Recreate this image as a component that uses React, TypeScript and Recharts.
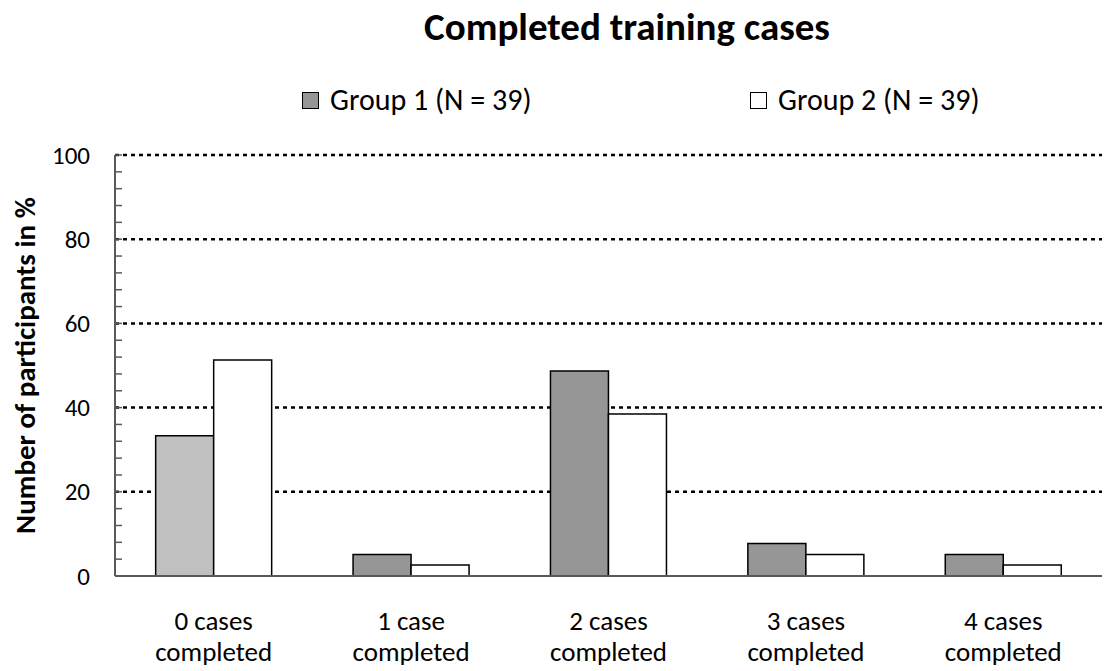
import { Bar, BarChart, CartesianGrid, Cell, Legend, XAxis, YAxis } from "recharts";

const categories = ["0 cases", "1 case", "2 cases", "3 cases", "4 cases"];
const secondLine = "completed";
const group1Values = [33.3, 5.1, 48.7, 7.7, 5.1];
const group2Values = [51.3, 2.6, 38.5, 5.1, 2.6];
const yTicks = [0, 4, 8, 12, 16, 20, 24, 28, 32, 36, 40, 44, 48, 52, 56, 60, 64, 68, 72, 76, 80, 84, 88, 92, 96, 100];
const majorTicks = [0, 20, 40, 60, 80, 100];
const gridValues = [20, 40, 60, 80, 100];

const data = categories.map((c, i) => ({
  category: c,
  group1: group1Values[i],
  group2: group2Values[i]
}));

const font = "Carlito, Lato, 'Liberation Sans', sans-serif";
const axisColor = "#595959";

function YTick({ x, y, payload }: any) {
  const major = majorTicks.includes(payload.value);
  return (
    <g>
      <line x1={x} x2={x + 7} y1={y} y2={y} stroke={axisColor} strokeWidth={1.5} />
      {major && (
        <text x={x - 25} y={y} textAnchor="end" dominantBaseline="central" fill="#000" fontSize={25} fontFamily={font}>
          {payload.value}
        </text>
      )}
    </g>
  );
}

function XTick({ x, y, payload }: any) {
  return (
    <text x={x} y={y} textAnchor="middle" fill="#000" fontSize={27} fontFamily={font}>
      <tspan x={x} dy={54}>{payload.value}</tspan>
      <tspan x={x} dy={31}>{secondLine}</tspan>
    </text>
  );
}

function YLabel({ viewBox }: any) {
  const cx = viewBox.x + 25;
  const cy = viewBox.y + viewBox.height / 2;
  return (
    <text
      transform={`translate(${cx},${cy}) rotate(-90)`}
      textAnchor="middle"
      dominantBaseline="central"
      fontSize={29}
      fontWeight="bold"
      fontFamily={font}
      fill="#000"
    >
      Number of participants in %
    </text>
  );
}

function LegendContent({ payload }: any) {
  const lefts = [302, 750];
  return (
    <div style={{ position: "relative", width: 1109, height: 34, fontFamily: font, fontSize: 30, lineHeight: "34px" }}>
      {(payload || []).map((p: any, i: number) => (
        <div key={p.value} style={{ position: "absolute", left: lefts[i], top: 0, display: "flex", alignItems: "center", whiteSpace: "nowrap" }}>
          <span
            style={{
              display: "inline-block",
              width: 15,
              height: 15,
              background: i === 0 ? "#969696" : "#ffffff",
              border: "1.5px solid #000",
              marginRight: 11
            }}
          />
          <span>{p.value}</span>
        </div>
      ))}
    </div>
  );
}

export default function App() {
  return (
    <div style={{ position: "absolute", left: 0, top: 0, width: 1109, height: 671, background: "#fff" }}>
      <div
        style={{
          position: "absolute",
          top: 4,
          left: 627,
          transform: "translateX(-50%)",
          whiteSpace: "nowrap",
          fontFamily: font,
          fontWeight: "bold",
          fontSize: 39,
          lineHeight: "46px"
        }}
      >
        Completed training cases
      </div>
      <BarChart
        width={1109}
        height={671}
        data={data}
        margin={{ top: 155, right: 7, bottom: 0, left: 0 }}
        barCategoryGap="20.6%"
        barGap={0}
      >
        <CartesianGrid
          horizontal
          vertical={false}
          horizontalValues={gridValues}
          stroke="#000"
          strokeWidth={2.5}
          strokeDasharray="4 4"
        />
        <XAxis
          dataKey="category"
          height={95}
          axisLine={{ stroke: axisColor, strokeWidth: 2 }}
          tickLine={false}
          tickSize={0}
          tickMargin={0}
          tick={<XTick />}
          interval={0}
        />
        <YAxis
          width={115}
          domain={[0, 100]}
          ticks={yTicks}
          interval={0}
          tickSize={0}
          tickMargin={0}
          tickLine={false}
          axisLine={{ stroke: axisColor, strokeWidth: 2 }}
          tick={<YTick />}
          label={{ content: <YLabel /> }}
        />
        <Legend
          verticalAlign="top"
          content={<LegendContent />}
          wrapperStyle={{ position: "absolute", top: 83, left: 0, width: 1109, height: 0, overflow: "visible" }}
        />
        <Bar dataKey="group1" name="Group 1 (N = 39)" fill="#969696" stroke="#000" strokeWidth={1.5} isAnimationActive={false}>
          {group1Values.map((_, i) => (
            <Cell key={i} fill={i === 0 ? "#c0c0c0" : "#969696"} />
          ))}
        </Bar>
        <Bar dataKey="group2" name="Group 2 (N = 39)" fill="#ffffff" stroke="#000" strokeWidth={1.5} isAnimationActive={false} />
      </BarChart>
    </div>
  );
}
